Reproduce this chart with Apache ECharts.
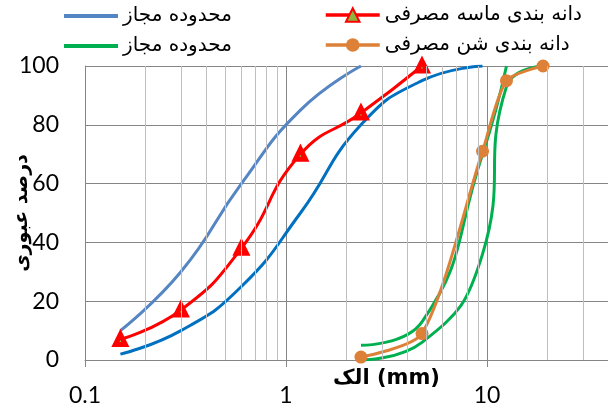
<!DOCTYPE html>
<html><head><meta charset="utf-8">
<script src="https://cdn.jsdelivr.net/npm/echarts@6/dist/echarts.min.js"></script>
<style>html,body{margin:0;padding:0;background:#fff}#c{width:608px;height:403px}</style>
</head><body><div id="c"></div>
<script>
// sieve sizes (mm) and percent passing
const sandUpperX = [0.15, 0.3, 0.6, 1.18, 2.36];
const sandUpperY = [10, 30, 60, 85, 100];
const sandLowerX = [0.15, 0.3, 0.6, 1.18, 2.36, 4.75, 9.5];
const sandLowerY = [2, 10, 25, 50, 80, 95, 100];
const sandUsedX = [0.15, 0.3, 0.6, 1.18, 2.36, 4.75];
const sandUsedY = [7, 17, 38, 70, 84, 100];
const gravelUpperX = [2.36, 4.75, 9.5, 12.5];
const gravelUpperY = [5, 13, 70, 100];
const gravelLowerX = [2.36, 4.75, 9.5, 12.5, 19];
const gravelLowerY = [0, 6, 36, 93, 100];
const gravelUsedX = [2.36, 4.75, 9.5, 12.5, 19];
const gravelUsedY = [1, 9, 71, 95, 100];
const minorTicks = [0.2,0.3,0.4,0.5,0.6,0.7,0.8,0.9,2,3,4,5,6,7,8,9,20,30,40,50,60,70,80,90];
const legendNames = {
  sandLimitA: 'محدوده مجاز',
  sandUsed: 'دانه بندی ماسه مصرفی',
  gravelLimitA: 'محدوده مجاز',
  gravelUsed: 'دانه بندی شن مصرفی'
};
const xLabel = 'الک (mm)';
const yLabel = 'درصد عبوری';

const pairs = (xs, ys) => xs.map((x, i) => [x, ys[i]]);
const arabicFont = 'DejaVu Sans';
const numFont = 'Lato';

const chart = echarts.init(document.getElementById('c'), null, {renderer: 'canvas'});
const legendBase = {
  padding: 0, itemWidth: 54, itemHeight: 14, itemGap: 7,
  textStyle: {fontFamily: arabicFont, fontSize: 20, color: '#000'},
  formatter: n => legendNames[n],
  selectedMode: false
};
const lineBase = {type: 'line', smooth: 0.5, animation: false, z: 3};
chart.setOption({
  animation: false,
  grid: {left: 85, top: 66, width: 603, height: 294, containLabel: false, outerBoundsMode: 'none'},
  legend: [
    Object.assign({left: 64, top: 6, data: [{name: 'sandLimitA', icon: 'rect', itemStyle: {color: '#5585C3'}}]}, legendBase, {itemHeight: 4}),
    Object.assign({left: 324, top: 5, data: [{name: 'sandUsed', lineStyle: {width: 3.5}}]}, legendBase, {itemHeight: 17}),
    Object.assign({left: 64, top: 36, data: [{name: 'gravelLimitA', icon: 'rect', itemStyle: {color: '#00B050'}}]}, legendBase, {itemHeight: 4}),
    Object.assign({left: 324, top: 35, data: [{name: 'gravelUsed', lineStyle: {width: 3.5}}]}, legendBase, {itemHeight: 17})
  ],
  xAxis: {
    type: 'log', logBase: 10, min: 0.1, max: 100,
    axisLine: {show: true, lineStyle: {color: '#868686', width: 1}},
    axisTick: {show: true, length: 7, lineStyle: {color: '#868686'}},
    splitLine: {show: true, lineStyle: {color: '#868686', width: 1}},
    axisLabel: {fontFamily: numFont, fontSize: 23, color: '#000', margin: 24,
      formatter: v => String(+v.toPrecision(3))},
    name: xLabel, nameLocation: 'middle', nameGap: 8, nameMoveOverlap: false,
    nameTextStyle: {fontFamily: arabicFont, fontWeight: 'bold', fontSize: 21, color: '#000', verticalAlign: 'top'}
  },
  yAxis: {
    type: 'value', min: 0, max: 100, interval: 20,
    axisLine: {show: true, lineStyle: {color: '#868686', width: 1}},
    axisTick: {show: false},
    splitLine: {show: true, lineStyle: {color: '#868686', width: 1}},
    axisLabel: {fontFamily: numFont, fontSize: 23, color: '#000', margin: 26},
    name: yLabel, nameLocation: 'middle', nameRotate: 90, nameGap: 63, nameMoveOverlap: false,
    nameTextStyle: {fontFamily: arabicFont, fontWeight: 'bold', fontSize: 19, color: '#000', verticalAlign: 'middle', align: 'center'}
  },
  series: [
    {type: 'line', name: 'minor', data: [], z: 1, silent: true,
      markLine: {silent: true, symbol: ['none', 'none'], label: {show: false}, animation: false,
        lineStyle: {color: '#BFBFBF', width: 1, type: 'solid'},
        data: minorTicks.map(v => ({xAxis: v}))}},
    Object.assign({}, lineBase, {name: 'sandLimitA', data: pairs(sandUpperX, sandUpperY), symbol: 'none',
      lineStyle: {color: '#5585C3', width: 3}, itemStyle: {color: '#5585C3'}}),
    Object.assign({}, lineBase, {name: 'sandLimitB', data: pairs(sandLowerX, sandLowerY), symbol: 'none',
      lineStyle: {color: '#0070C0', width: 3}, itemStyle: {color: '#0070C0'}}),
    Object.assign({}, lineBase, {name: 'sandUsed', data: pairs(sandUsedX, sandUsedY), symbol: 'triangle', symbolSize: 10,
      lineStyle: {color: '#FF0000', width: 3}, itemStyle: {color: '#8DB43E', borderColor: '#FF0000', borderWidth: 5}}),
    Object.assign({}, lineBase, {name: 'gravelLimitA', data: pairs(gravelUpperX, gravelUpperY), symbol: 'none',
      lineStyle: {color: '#00B050', width: 3}, itemStyle: {color: '#00B050'}}),
    Object.assign({}, lineBase, {name: 'gravelLimitB', data: pairs(gravelLowerX, gravelLowerY), symbol: 'none',
      lineStyle: {color: '#00B050', width: 3}, itemStyle: {color: '#00B050'}}),
    Object.assign({}, lineBase, {name: 'gravelUsed', data: pairs(gravelUsedX, gravelUsedY), symbol: 'circle', symbolSize: 13,
      smooth: 0.25, lineStyle: {color: '#DD8139', width: 3}, itemStyle: {color: '#DD8139'}})
  ]
});
</script></body></html>
